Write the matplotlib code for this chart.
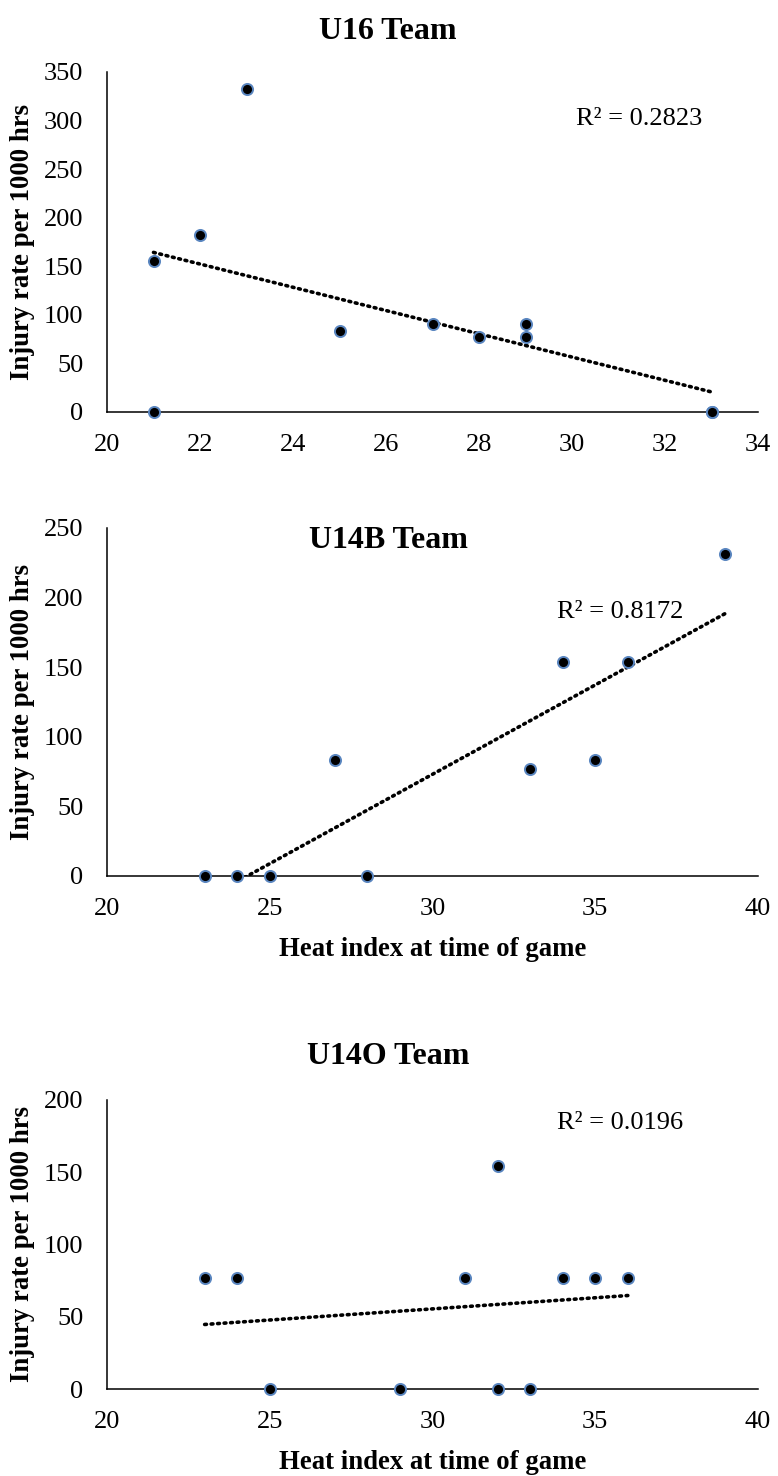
import numpy as np
import matplotlib
matplotlib.use("Agg")
import matplotlib.pyplot as plt

plt.rcParams['font.family'] = ['Liberation Serif', 'DejaVu Serif']

# U16 team (one point at 33,0 sits under another)
u16_heat = [21, 21, 22, 23, 25, 27, 28, 29, 29, 33, 33]
u16_rate = [155, 0, 182, 333, 83, 91, 77, 91, 77, 0, 0]

# U14B team
u14b_heat = [23, 24, 25, 27, 28, 33, 34, 35, 36, 39]
u14b_rate = [0, 0, 0, 83, 0, 77, 154, 83, 154, 231]

# U14O team
u14o_heat = [23, 24, 25, 29, 31, 32, 32, 33, 34, 35, 36]
u14o_rate = [77, 77, 0, 0, 77, 154, 0, 0, 77, 77, 77]

titles = ["U16 Team", "U14B Team", "U14O Team"]
r2_labels = ["R² = 0.2823", "R² = 0.8172", "R² = 0.0196"]

W, H = 778, 1476
fig = plt.figure(figsize=(W / 100, H / 100), dpi=100)


def px_axes(left, top, right, bottom):
    return fig.add_axes([left / W, 1 - bottom / H, (right - left) / W, (bottom - top) / H])


def draw_panel(ax, x, y, xlim, xstep, ylim, title, title_pos, r2, r2_pos, xlabel=None):
    ax.plot(x, y, 'o', color='black', markersize=8, markeredgecolor='#5a86c0',
            markeredgewidth=1.4, clip_on=False, zorder=3)
    # linear trendline like Excel
    k, b = np.polyfit(x, y, 1)
    xs = np.array([min(x), max(x)])
    ax.plot(xs, k * xs + b, color='black', lw=2.6, linestyle=(0, (0.5, 1.3)),
            dash_capstyle='round', zorder=2)
    ax.set_xlim(*xlim)
    ax.set_ylim(*ylim)
    ax.set_xticks(np.arange(xlim[0], xlim[1] + 1, xstep))
    ax.set_yticks(np.arange(0, ylim[1] + 1, 50))
    for s in ['top', 'right']:
        ax.spines[s].set_visible(False)
    for s in ['left', 'bottom']:
        ax.spines[s].set_linewidth(1.1)
    ax.tick_params(length=0, labelsize=19)
    ax.tick_params(axis='y', pad=17)
    ax.tick_params(axis='x', pad=16)
    ax.set_ylabel("Injury rate per 1000 hrs", fontsize=19.3, fontweight='bold')
    ax.yaxis.set_label_coords(-0.11, 0.5)
    if xlabel:
        ax.set_xlabel(xlabel, fontsize=19.3, fontweight='bold', labelpad=12)
    ax.text(title_pos[0], title_pos[1], title, transform=ax.transAxes, ha='center',
            va='center', fontsize=23, fontweight='bold')
    ax.text(r2_pos[0], r2_pos[1], r2, transform=ax.transAxes, ha='left',
            va='center', fontsize=19)


ax1 = px_axes(107, 72, 758, 412)
draw_panel(ax1, u16_heat, u16_rate, (20, 34), 2, (0, 350), titles[0],
           (0.432, 1.118), r2_labels[0], (0.72, 0.862))

ax2 = px_axes(107, 528, 758, 876)
draw_panel(ax2, u14b_heat, u14b_rate, (20, 40), 5, (0, 250), titles[1],
           (0.432, 0.965), r2_labels[1], (0.691, 0.76),
           xlabel="Heat index at time of game")

ax3 = px_axes(107, 1100, 758, 1389)
draw_panel(ax3, u14o_heat, u14o_rate, (20, 40), 5, (0, 200), titles[2],
           (0.432, 1.15), r2_labels[2], (0.691, 0.92),
           xlabel="Heat index at time of game")

fig.savefig("out.png", dpi=100, facecolor='white')
